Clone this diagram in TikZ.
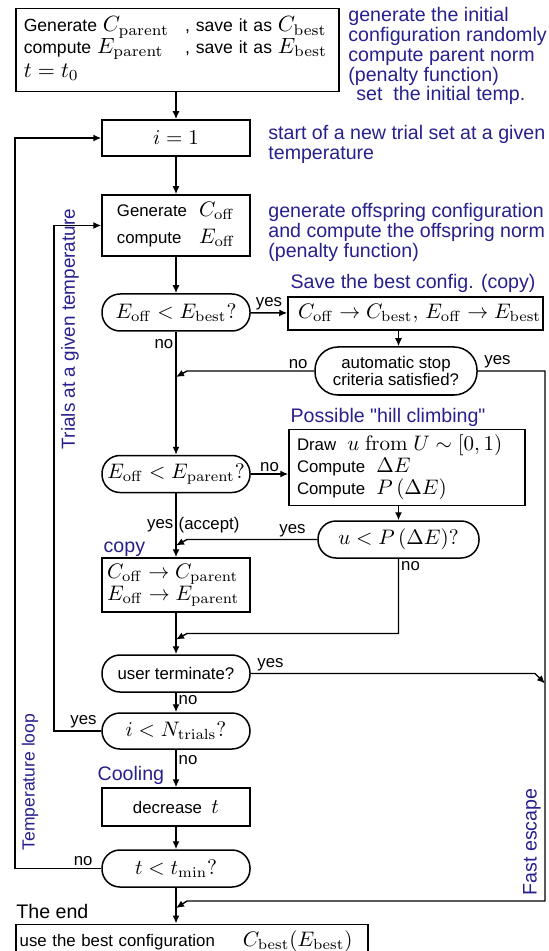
\RequirePackage{fix-cm}
\documentclass[tikz,border=0pt]{standalone}
\usepackage[no-math]{fontspec}
\setmainfont{Liberation Sans}[Scale=0.80]
\newfontfamily\notefont{Liberation Sans}[Scale=0.86]
\usetikzlibrary{arrows.meta,positioning,calc}
\definecolor{notecol}{RGB}{40,32,140}

\begin{document}
\begin{tikzpicture}[
  x=0.5pt, y=-0.5pt,
  font=\fontsize{10.5pt}{11pt}\selectfont,
  box/.style={draw, line width=0.75pt, minimum width=74pt, minimum height=#1, inner sep=2pt, align=center},
  box/.default=18pt,
  decide/.style={draw, line width=0.75pt, rounded corners=9pt, minimum width=74pt, minimum height=18.5pt, inner xsep=0pt, inner ysep=1pt, align=center},
  note/.style={text=notecol, font=\notefont\fontsize{11.4pt}{9.9pt}\selectfont, align=left, inner sep=0pt},
  tag/.style={inner sep=1pt},
  arr/.style={-{Latex[length=4pt,width=3.5pt]}, line width=0.7pt},
]
  \useasboundingbox (0,0) rectangle (548,951);

  % main column
  \node[draw, line width=0.75pt, anchor=north west, text width=153.5pt, minimum height=38.5pt, inner sep=4pt, align=left,
        font=\fontsize{11pt}{10.2pt}\selectfont] (init) at (15,8)
    {\begin{tabular}{@{}l@{\hspace{8pt}}l@{}}
      Generate\ $C_{\mathrm{parent}}$ & , save it as $C_{\mathrm{best}}$\\
      compute\ $E_{\mathrm{parent}}$ & , save it as $E_{\mathrm{best}}$\\[2pt]
      $t=t_0$ &
    \end{tabular}};
  \node[box] (i1) at (176,138) {$i=1$};
  \node[box=30.5pt] (gen) at (176,225.5)
    {\begin{tabular}{@{}l@{\hspace{6pt}}l@{}}
      Generate & $C_{\mathrm{off}}$\\[2.5pt]
      compute & $E_{\mathrm{off}}$
    \end{tabular}};
  \node[decide] (best) at (176,312.5) {$E_{\mathrm{off}} < E_{\mathrm{best}}?$};
  \node[decide] (par) at (176,474) {$E_{\mathrm{off}} < E_{\mathrm{parent}}?$};
  \node[draw, line width=0.75pt, text width=69pt, minimum height=27pt, inner xsep=2.5pt, align=left] (copy) at (176,585)
    {\mbox{$C_{\mathrm{off}}\to C_{\mathrm{parent}}$}\\ \mbox{$E_{\mathrm{off}}\to E_{\mathrm{parent}}$}};
  \node[decide] (user) at (176,673.5) {user terminate?};
  \node[decide, minimum height=18pt] (trial) at (176,731) {$i < N_{\mathrm{trials}}?$};
  \node[box=19pt] (cool) at (176,807) {decrease\ \ $t$};
  \node[decide] (tmin) at (176,868.5) {$t < t_{\mathrm{min}}?$};
  \node[draw, line width=0.75pt, anchor=north west, text width=172pt, minimum height=17pt, inner xsep=2pt, align=left] (final) at (15,923.5)
    {\mbox{use the best configuration\ \ \quad$C_{\mathrm{best}}(E_{\mathrm{best}})$}};

  % right branch
  \node[draw, line width=0.75pt, text width=117.5pt, minimum height=16.5pt, inner xsep=5pt, inner ysep=1pt, align=left] (save) at (415.5,313.5)
    {\mbox{$C_{\mathrm{off}}\to C_{\mathrm{best}},\, E_{\mathrm{off}}\to E_{\mathrm{best}}$}};
  \node[decide, minimum width=81pt, minimum height=24pt, rounded corners=11.5pt] (auto) at (396,371)
    {automatic stop\\[-2.5pt]criteria satisfied?};
  \node[draw, line width=0.75pt, text width=110pt, minimum height=37.5pt, inner xsep=4pt, align=left] (hill) at (407,467.5)
    {Draw\ \ $u\ \mathrm{from}\ U\sim[0,1)$\\ Compute\ \ $\Delta E$\\ Compute\ \ $P\,(\Delta E)$};
  \node[decide, minimum width=80.5pt] (acc) at (398.5,539.5) {$u < P\,(\Delta E)?$};

  \coordinate (inner) at (54,0);
  \coordinate (outer) at (15,0);
  \coordinate (fast) at (545,901);
  \coordinate (j4) at ($(copy.south)!.5!(user.north)$);

  % blue notes
  \node[note, anchor=north west] (n1) at (348,7)
    {generate the initial\\configuration randomly\\compute parent norm\\(penalty function)\\\hspace{4pt}set\ \ the initial temp.};
  \node[note, anchor=north west] (n2) at (268,125) {start of a new trial set at a given\\temperature};
  \node[note, anchor=north west] (n3) at (268,203)
    {generate offspring configuration\\and compute the offspring norm\\(penalty function)};
  \node[note, above right=1.5pt and 1.5pt of save.north west] (n4) {Save the best config. (copy)};
  \node[note, above right=1pt and 1pt of hill.north west] (n5) {Possible "hill climbing"};
  \node[note, above right=0pt and 1pt of copy.north west] (n6) {copy};
  \node[note, above right=1pt and -2pt of cool.north west] (n7) {Cooling};
  \node[note, above right=2pt and 0.5pt of final.north west, text=black] (n8) {The end};
  \node[note, rotate=90, font=\notefont\fontsize{11pt}{11pt}\selectfont] (trials) at (70,329) {Trials at a given temperature};
  \node[note, rotate=90, font=\notefont\fontsize{10.2pt}{11pt}\selectfont] (temploop) at (30,782) {Temperature loop};
  \node[note, rotate=90] (escape) at (532,842) {Fast escape};

  % connectors
  \draw[arr] (i1 |- init.south) -- (i1);
  \draw[arr] (i1) -- (gen);
  \draw[arr] (gen) -- (best);
  \draw[arr] (best) -- node[tag, above]{yes} (save);
  \draw[arr] (best) -- node[tag, left, pos=.1]{no} (par);
  \draw[arr] (save.south -| acc) -- (auto.north -| acc);
  \draw[arr] (auto.west) node[tag, above left=0pt and 2pt]{no} -- ($(best |- auto.west)+(11,0)$) -- ++(-11,6);
  \draw[arr] (auto.east) node[tag, above right=0pt and 2pt]{yes} -| (fast) -- ($(fast -| tmin)+(11,0)$) -- ++(-11,7);
  \draw[arr] (par) -- node[tag, above]{no} (hill.west |- par);
  \draw[arr] (par) -- node[tag, left]{yes} node[tag, right]{(accept)} (copy);
  \draw[arr] (hill.south -| acc) -- (acc);
  \draw[arr] (acc.west) node[tag, above left=0pt and 4.5pt]{yes} -- ($(par |- acc.west)+(11,0)$) -- ++(-11,6);
  \draw[arr] (acc.south) node[tag, below right=0pt and 0pt]{no} -- (acc |- j4) -- ($(j4)+(11,0)$) -- ++(-11,6);
  \draw[arr] (copy) -- (user);
  \draw[arr] (user.east) node[tag, above right=0pt and 2pt]{yes} -- ($(fast |- user.east)+(-10,0)$) -- ++(10,10);
  \draw[arr] (user) -- node[tag, right, pos=.4]{no} (trial);
  \draw[arr] (trial.west) node[tag, above left=0pt and 1pt]{yes} -- (trial.west -| inner) |- (gen.west);
  \draw[arr] (trial) -- node[tag, right, pos=.28]{no} (cool);
  \draw[arr] (cool) -- (tmin);
  \draw[arr] (tmin.west) node[tag, above left=0pt and 3pt]{no} -- (tmin.west -| outer) |- (i1.west);
  \draw[arr] (tmin) -- (tmin |- final.north);
\end{tikzpicture}
\end{document}
